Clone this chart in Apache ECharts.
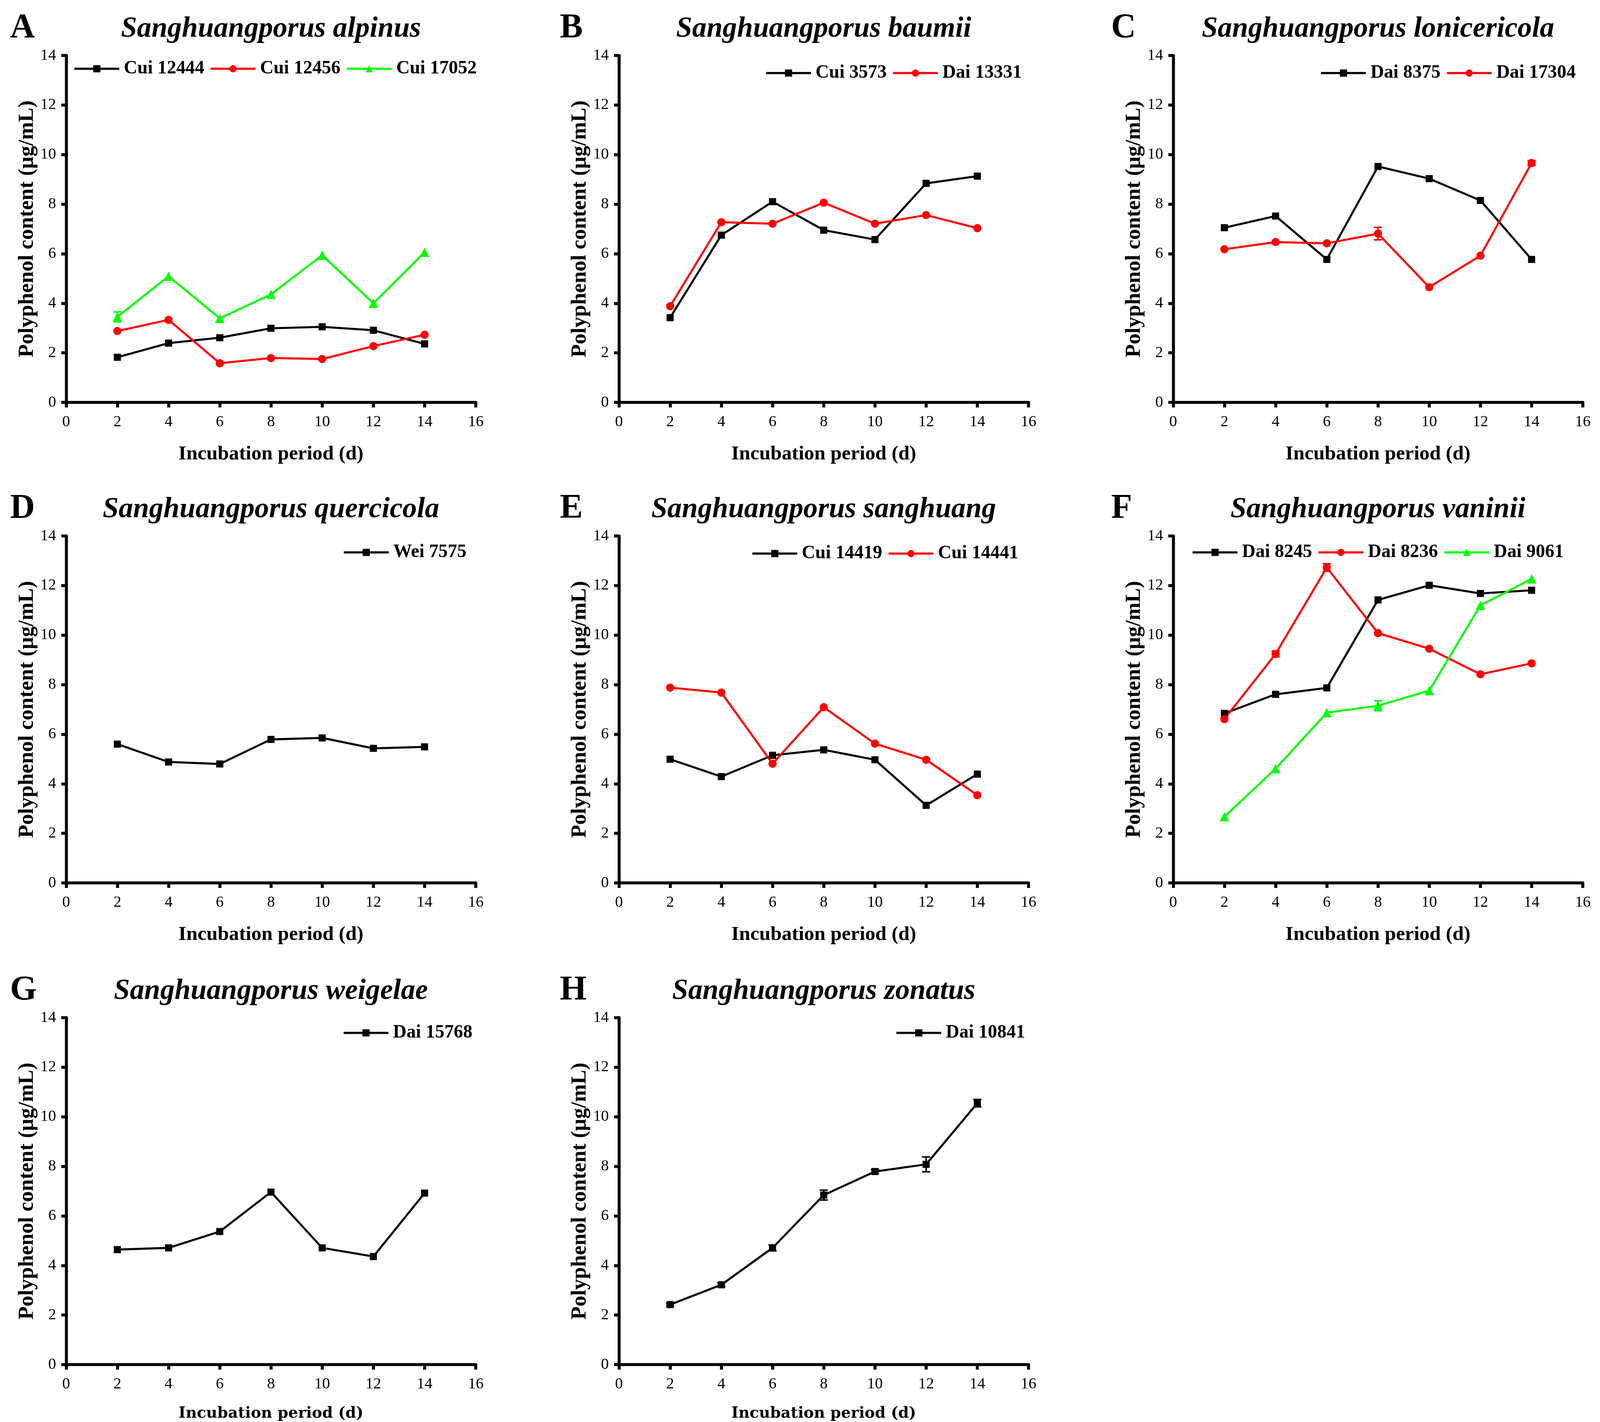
<!DOCTYPE html>
<html>
<head>
<meta charset="utf-8">
<script src="https://cdn.jsdelivr.net/npm/echarts@6/dist/echarts.min.js"></script>
<style>html,body{margin:0;padding:0;background:#fff;overflow:hidden;}#c{position:absolute;left:0;top:0;}</style>
</head>
<body>
<div id="c"></div>
<script>
// ---- data ----
const days = [2, 4, 6, 8, 10, 12, 14];
const xTicks = [0, 2, 4, 6, 8, 10, 12, 14, 16];
const yTicks = [0, 2, 4, 6, 8, 10, 12, 14];

const panelLetters = ['A', 'B', 'C', 'D', 'E', 'F', 'G', 'H'];
const panelTitles = ['Sanghuangporus alpinus', 'Sanghuangporus baumii', 'Sanghuangporus lonicericola',
  'Sanghuangporus quercicola', 'Sanghuangporus sanghuang', 'Sanghuangporus vaninii',
  'Sanghuangporus weigelae', 'Sanghuangporus zonatus'];

// A
const aCui12444 = [1.82, 2.39, 2.61, 2.99, 3.05, 2.91, 2.36];
const aCui12456 = [2.88, 3.33, 1.58, 1.79, 1.75, 2.27, 2.73];
const aCui17052 = [3.45, 5.09, 3.39, 4.36, 5.94, 4.00, 6.06];
const aCui17052Err = [0.2, 0, 0, 0, 0, 0, 0];
// B
const bCui3573 = [3.42, 6.75, 8.10, 6.95, 6.57, 8.84, 9.13];
const bDai13331 = [3.88, 7.27, 7.21, 8.06, 7.21, 7.56, 7.03];
// C
const cDai8375 = [7.05, 7.52, 5.77, 9.52, 9.03, 8.15, 5.77];
const cDai17304 = [6.18, 6.47, 6.42, 6.81, 4.65, 5.92, 9.66];
const cDai17304Err = [0, 0, 0, 0.25, 0, 0, 0.1];
// D
const dWei7575 = [5.60, 4.88, 4.80, 5.79, 5.85, 5.43, 5.49];
// E
const eCui14419 = [4.99, 4.29, 5.15, 5.37, 4.97, 3.13, 4.39];
const eCui14441 = [7.88, 7.68, 4.81, 7.09, 5.62, 4.97, 3.54];
// F
const fDai8245 = [6.84, 7.61, 7.87, 11.42, 12.01, 11.68, 11.81];
const fDai8236 = [6.61, 9.24, 12.73, 10.08, 9.45, 8.42, 8.86];
const fDai9061 = [2.67, 4.61, 6.87, 7.15, 7.76, 11.20, 12.27];
const fDai8236Err = [0, 0.12, 0.15, 0, 0, 0, 0];
const fDai9061Err = [0, 0, 0, 0.2, 0, 0, 0];
// G
const gDai15768 = [4.64, 4.71, 5.37, 6.96, 4.71, 4.36, 6.92];
// H
const hDai10841 = [2.42, 3.22, 4.71, 6.84, 7.79, 8.08, 10.55];
const hDai10841Err = [0.05, 0.08, 0.12, 0.2, 0.08, 0.3, 0.15];

const BLACK = '#000000', RED = '#ff0000', GREEN = '#00ff00';

const panels = [
  { series: [['Cui 12444', aCui12444, BLACK, 'rect', null], ['Cui 12456', aCui12456, RED, 'circle', null], ['Cui 17052', aCui17052, GREEN, 'triangle', aCui17052Err]],
    legend: { left: 196, cy: 177 } },
  { series: [['Cui 3573', bCui3573, BLACK, 'rect', null], ['Dai 13331', bDai13331, RED, 'circle', null]],
    legend: { right: 1547, cy: 188 } },
  { series: [['Dai 8375', cDai8375, BLACK, 'rect', null], ['Dai 17304', cDai17304, RED, 'circle', cDai17304Err]],
    legend: { right: 65, cy: 188 } },
  { series: [['Wei 7575', dWei7575, BLACK, 'rect', null]],
    legend: { right: 3033, cy: 1415 } },
  { series: [['Cui 14419', eCui14419, BLACK, 'rect', null], ['Cui 14441', eCui14441, RED, 'circle', null]],
    legend: { right: 1556, cy: 1418 } },
  { series: [['Dai 8245', fDai8245, BLACK, 'rect', null], ['Dai 8236', fDai8236, RED, 'circle', fDai8236Err], ['Dai 9061', fDai9061, GREEN, 'triangle', fDai9061Err]],
    legend: { left: 3188, cy: 1415 } },
  { series: [['Dai 15768', gDai15768, BLACK, 'rect', null]],
    legend: { right: 3017, cy: 2645 } },
  { series: [['Dai 10841', hDai10841, BLACK, 'rect', hDai10841Err]],
    legend: { right: 1538, cy: 2645 } }
];

// ---- layout (designed in a 4281 x 3640 frame, scaled to the real viewport) ----
const REF_W = 4281, REF_H = 3640;
const VW = window.innerWidth || REF_W, VH = window.innerHeight || REF_H;
const sx = VW / REF_W, sy = VH / REF_H, s = Math.min(sx, sy);
const X = v => v * sx, Y = v => v * sy, S = v => v * s;

const colLeft = [177, 1656, 3139];
const rowTop = [142, 1372, 2605];
const gridW = 1096, gridH = 888;
const letterX = [27, 1498, 2973];
const SERIF = '"Liberation Serif", "Times New Roman", serif';

const grids = [], xAxes = [], yAxes = [], series = [], legends = [], graphics = [];

panels.forEach((p, i) => {
  const col = i % 3, row = Math.floor(i / 3);
  const left = colLeft[col], top = rowTop[row];
  grids.push({ left: X(left), top: Y(top), width: X(gridW), height: Y(gridH), containLabel: false });
  const lastRow = row === 2;
  xAxes.push({
    gridIndex: i, type: 'value', min: xTicks[0], max: xTicks[xTicks.length - 1], interval: 2,
    name: 'Incubation period (d)', nameLocation: 'middle', nameGap: Y(lastRow ? 106 : 107),
    nameTextStyle: lastRow
      ? { fontFamily: '"DejaVu Serif", serif', fontWeight: 'bold', fontSize: S(41), color: '#000' }
      : { fontFamily: SERIF, fontWeight: 'bold', fontSize: S(54), color: '#000' },
    axisLine: { show: true, onZero: false, lineStyle: { color: '#000', width: S(8) } },
    axisTick: { show: true, inside: false, length: Y(13), lineStyle: { color: '#000', width: S(8) } },
    axisLabel: { margin: Y(30), fontFamily: SERIF, fontSize: S(42), color: '#000' },
    splitLine: { show: false }
  });
  yAxes.push({
    gridIndex: i, type: 'value', min: yTicks[0], max: yTicks[yTicks.length - 1], interval: 2,
    name: 'Polyphenol content (μg/mL)', nameLocation: 'middle', nameGap: X(75),
    nameTextStyle: { fontFamily: SERIF, fontWeight: 'bold', fontSize: Y(55), color: '#000' },
    axisLine: { show: true, onZero: false, lineStyle: { color: '#000', width: S(8) } },
    axisTick: { show: true, inside: false, length: X(13), lineStyle: { color: '#000', width: S(8) } },
    axisLabel: { margin: X(27), fontFamily: SERIF, fontSize: S(42), color: '#000' },
    splitLine: { show: false }
  });
  const names = [];
  p.series.forEach(([name, vals, color, sym, err]) => {
    names.push(name);
    series.push({
      name: name, type: 'line', xAxisIndex: i, yAxisIndex: i,
      data: days.map((d, k) => [d, vals[k]]),
      symbol: sym, symbolSize: S(sym === 'triangle' ? 25 : (sym === 'circle' ? 22 : 19)),
      showSymbol: true,
      lineStyle: { color: color, width: S(5.5) },
      itemStyle: { color: color },
      z: 3, animation: false
    });
    if (err) {
      series.push({
        type: 'custom', xAxisIndex: i, yAxisIndex: i,
        data: days.map((d, k) => [d, vals[k], err[k]]),
        encode: { x: 0, y: 1 },
        renderItem: function (params, api) {
          const x = api.value(0), y = api.value(1), e = api.value(2);
          if (!e) return null;
          const t = api.coord([x, y + e]), b = api.coord([x, y - e]);
          const w = S(11);
          const st = { stroke: color, lineWidth: S(4) };
          return { type: 'group', children: [
            { type: 'line', shape: { x1: t[0], y1: t[1], x2: b[0], y2: b[1] }, style: st },
            { type: 'line', shape: { x1: t[0] - w, y1: t[1], x2: t[0] + w, y2: t[1] }, style: st },
            { type: 'line', shape: { x1: b[0] - w, y1: b[1], x2: b[0] + w, y2: b[1] }, style: st }
          ] };
        },
        z: 4, silent: true, animation: false
      });
    }
  });
  const lg = {
    data: names, orient: 'horizontal', padding: 0,
    top: Y(p.legend.cy - 25), itemWidth: X(120), itemHeight: S(24), itemGap: X(14),
    lineStyle: { width: S(6) },
    textStyle: { fontFamily: SERIF, fontWeight: 'bold', fontSize: S(50), color: '#000', lineHeight: S(50), padding: [0, 0, 0, X(7)] },
    selectedMode: false
  };
  if (p.legend.left !== undefined) lg.left = X(p.legend.left); else lg.right = X(p.legend.right);
  legends.push(lg);

  graphics.push({
    type: 'text', x: X(left + gridW / 2), y: Y(top - 67),
    style: { text: panelTitles[i], font: 'italic bold ' + S(77) + 'px ' + SERIF, fill: '#000', align: 'center', verticalAlign: 'middle' }
  });
  graphics.push({
    type: 'text', x: X(letterX[col]), y: Y(top - 70),
    style: { text: panelLetters[i], font: 'bold ' + S(92) + 'px ' + SERIF, fill: '#000', align: 'left', verticalAlign: 'middle' }
  });
});

const el = document.getElementById('c');
el.style.width = VW + 'px';
el.style.height = VH + 'px';
const chart = echarts.init(el, null, { renderer: 'canvas', width: VW, height: VH });
chart.setOption({
  backgroundColor: '#ffffff',
  animation: false,
  grid: grids, xAxis: xAxes, yAxis: yAxes, legend: legends, series: series, graphic: graphics
});
</script>
</body>
</html>
